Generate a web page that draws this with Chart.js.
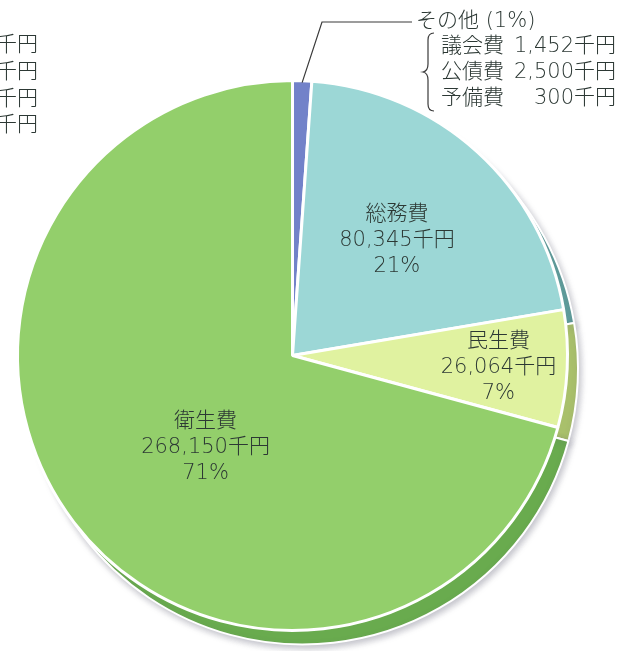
<!DOCTYPE html>
<html lang="ja">
<head>
<meta charset="utf-8">
<title>歳出内訳</title>
<script src="https://cdn.jsdelivr.net/npm/chart.js@4/dist/chart.umd.min.js"></script>
<style>
    body { margin: 0; background: #fff; }
    #wrap { position: relative; width: 634px; height: 651px; overflow: hidden; }
    #wrap canvas { position: absolute; left: 0; top: 0; }
</style>
</head>
<body>
<div id="wrap">
    <canvas id="rimChart" width="634" height="651"></canvas>
    <canvas id="pieChart" width="634" height="651"></canvas>
</div>
<script>
// その他 breakdown (千円)
const otherItems = ['議会費', '公債費', '予備費'];
const otherValues = [1452, 2500, 300];

// slices, clockwise from 12 o'clock
const categories = ['その他', '総務費', '民生費', '衛生費'];
const values = [otherValues.reduce((a, b) => a + b, 0), 80345, 26064, 268150];

const faceColors = ['#7282c9', '#9cd7d6', '#e0f2a0', '#93cf6b'];
const rimColors = ['#4c5a99', '#5f9d9b', '#a9c06b', '#69ab4e'];

const total = values.reduce((a, b) => a + b, 0);
const pct = v => Math.round(v / total * 100);
const yen = v => v.toLocaleString('en-US') + '千円';

const FONT = '"DejaVu Sans", "Noto Sans CJK JP", sans-serif';
const TEXT = '#2c3834';

// where the text sits inside each slice (fraction of radius, angle nudge)
const labelPlace = [null, { r: 0.565, da: 0 }, { r: 0.75, da: 0.01 }, { r: 0.46, da: -0.16 }];

const sliceLabels = {
    id: 'sliceLabels',
    afterDatasetsDraw(chart) {
        const ctx = chart.ctx;
        const arcs = chart.getDatasetMeta(0).data;
        ctx.save();
        ctx.fillStyle = TEXT;
        ctx.font = '300 21px ' + FONT;
        ctx.textAlign = 'center';
        ctx.textBaseline = 'middle';
        arcs.forEach((arc, i) => {
            const place = labelPlace[i];
            if (!place) return;
            const p = arc.getProps(['x', 'y', 'startAngle', 'endAngle', 'outerRadius'], true);
            const a = (p.startAngle + p.endAngle) / 2 + place.da;
            const cx = p.x + Math.cos(a) * p.outerRadius * place.r;
            const cy = p.y + Math.sin(a) * p.outerRadius * place.r;
            const lines = [categories[i], yen(values[i]), pct(values[i]) + '%'];
            lines.forEach((t, k) => ctx.fillText(t, cx, cy + (k - 1) * 26));
        });

        // leader + breakdown for その他
        const o = arcs[0].getProps(['x', 'y', 'startAngle', 'endAngle', 'outerRadius'], true);
        const oa = (o.startAngle + o.endAngle) / 2;
        ctx.strokeStyle = '#3a3a3a';
        ctx.lineWidth = 1.2;
        ctx.beginPath();
        ctx.moveTo(o.x + Math.cos(oa) * (o.outerRadius - 2), o.y + Math.sin(oa) * (o.outerRadius - 2));
        ctx.lineTo(322, 22);
        ctx.lineTo(412, 22);
        ctx.stroke();

        ctx.textAlign = 'left';
        ctx.fillText(categories[0] + ' (' + pct(values[0]) + '%)', 416, 22);
        otherItems.forEach((name, k) => {
            const y = 47 + k * 26;
            ctx.textAlign = 'left';
            ctx.fillText(name, 441, y);
            ctx.textAlign = 'right';
            ctx.fillText(yen(otherValues[k]), 616, y);
        });

        // brace
        ctx.beginPath();
        ctx.moveTo(434, 33);
        ctx.quadraticCurveTo(428, 33, 428, 40);
        ctx.lineTo(428, 64);
        ctx.quadraticCurveTo(428, 71, 423, 72);
        ctx.quadraticCurveTo(428, 73, 428, 80);
        ctx.lineTo(428, 104);
        ctx.quadraticCurveTo(428, 111, 434, 111);
        ctx.stroke();

        // cut-off legend remnants on the left edge
        ctx.textAlign = 'right';
        [46, 73, 100, 126].forEach(y => ctx.fillText('千円', 38, y));
        ctx.restore();
    }
};

const softShadow = {
    id: 'softShadow',
    beforeDatasetsDraw(chart) {
        const ctx = chart.ctx;
        ctx.save();
        ctx.shadowColor = 'rgba(90, 90, 110, 0.35)';
        ctx.shadowBlur = 6;
        ctx.shadowOffsetX = 2;
        ctx.shadowOffsetY = 3;
    },
    afterDatasetsDraw(chart) {
        chart.ctx.restore();
    }
};

const baseOptions = {
    responsive: false,
    animation: false,
    events: [],
    plugins: { legend: { display: false }, tooltip: { enabled: false } }
};

// extruded side, drawn as the same pie slightly lower and to the right
new Chart(document.getElementById('rimChart'), {
    type: 'pie',
    data: {
        labels: categories,
        datasets: [{ data: values, backgroundColor: rimColors, borderColor: '#ffffff', borderWidth: 2 }]
    },
    options: { ...baseOptions, layout: { padding: { left: 26, right: 55, top: 92, bottom: 5 } } },
    plugins: [softShadow]
});

new Chart(document.getElementById('pieChart'), {
    type: 'pie',
    data: {
        labels: categories,
        datasets: [{ data: values, backgroundColor: faceColors, borderColor: '#ffffff', borderWidth: 3 }]
    },
    options: { ...baseOptions, layout: { padding: { left: 16, right: 65, top: 79, bottom: 19 } } },
    plugins: [sliceLabels]
});
</script>
</body>
</html>
